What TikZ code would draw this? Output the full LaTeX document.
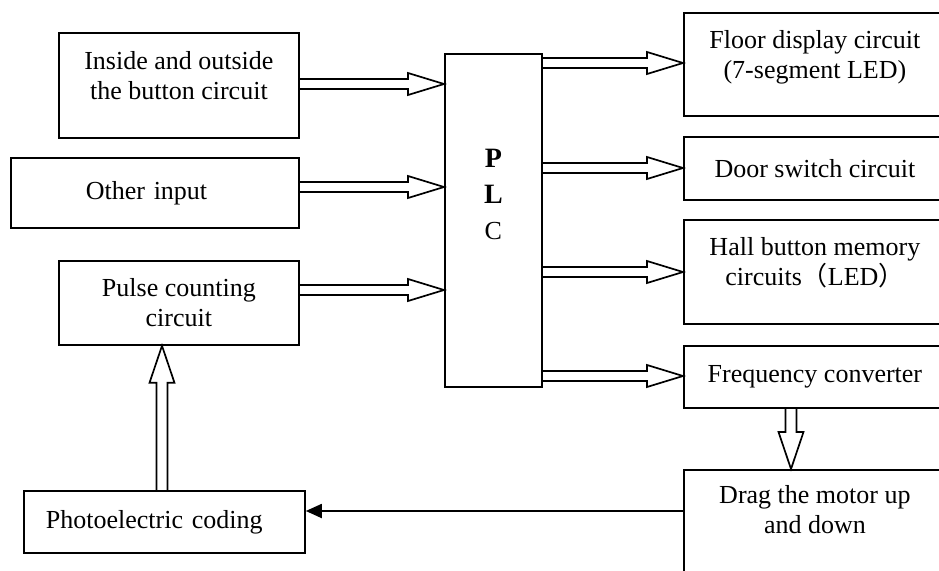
\documentclass[tikz,border=0pt]{standalone}
\usepackage{fontspec}
\setmainfont{Liberation Serif}
\newfontfamily\cjkfont{Noto Sans CJK SC}
\usetikzlibrary{arrows.meta,calc}
\tikzset{
  box/.style={draw, line width=1.8pt, rectangle, anchor=north west, inner sep=0pt,
    align=center, font=\fontsize{26}{30}\selectfont},
  fatarrow/.style={draw, line width=1.7pt, line join=miter},
  plainarrow/.style={line width=1.8pt, -{Triangle[length=16pt,width=14pt]}},
}
% rightward hollow arrow
\newcommand\rarrow[2]{\path[fatarrow] let \p1=(#1),\p2=(#2) in
  (\x1,\y1+5pt) -- (\x2-36pt,\y1+5pt) -- (\x2-36pt,\y1+11pt) -- (\x2,\y1)
  -- (\x2-36pt,\y1-11pt) -- (\x2-36pt,\y1-5pt) -- (\x1,\y1-5pt);}
% vertical hollow arrow
\newcommand\varrow[2]{\path[fatarrow] let \p1=(#1),\p2=(#2),\n1={sign(\y2-\y1)*37} in
  ({\x1-5.5pt},\y1) -- ({\x1-5.5pt},{\y2-(\n1)*1pt}) -- ({\x1-12.5pt},{\y2-(\n1)*1pt}) -- (\x1,\y2)
  -- ({\x1+12.5pt},{\y2-(\n1)*1pt}) -- ({\x1+5.5pt},{\y2-(\n1)*1pt}) -- ({\x1+5.5pt},\y1);}
\begin{document}
\begin{tikzpicture}[x=1pt,y=-1pt]
\useasboundingbox (0,0) rectangle (939,570);
\clip (0,0) rectangle (939,570);
% left column
\node[box, minimum width=240pt, minimum height=105pt, text depth=20pt] (A) at (58,32) {Inside and outside\\the button circuit};
\node[box, text width=138pt, align=left, inner xsep=75pt, minimum height=70pt] (B) at (10,157) {Other input};
\node[box, minimum width=240pt, minimum height=84pt] (C) at (58,260) {Pulse counting\\circuit};
\node[box, text width=237pt, align=left, inner xsep=22pt, minimum height=62pt] (D) at (23,490) {Photoelectric coding};
% PLC
\node[box, minimum width=97pt, minimum height=333pt, text depth=52pt, font=\fontsize{28}{36}\selectfont] (P) at (444,53)
  {\textbf{P}\\\textbf{L}\\{\fontsize{26}{36}\selectfont C}};
% right column
\node[box, minimum width=262pt, minimum height=103pt, text depth=19pt] (E) at (683,12) {Floor display circuit\\(7-segment LED)};
\node[box, minimum width=262pt, minimum height=63pt] (F) at (683,136) {Door switch circuit};
\node[box, minimum width=262pt, minimum height=104pt, text depth=21pt] (H) at (683,219) {Hall button memory\\circuits{\cjkfont （}LED{\cjkfont ）}};
\node[box, minimum width=262pt, minimum height=62pt] (I) at (683,345) {Frequency converter};
\node[box, minimum width=262pt, minimum height=110pt, text depth=30pt] (G) at (683,469) {Drag the motor up\\and down};
% hollow arrows
\rarrow{A.east |- 0,84}{P.west |- 0,84}
\rarrow{B.east |- 0,187}{P.west |- 0,187}
\rarrow{C.east |- 0,290}{P.west |- 0,290}
\rarrow{P.east |- 0,63}{E.west |- 0,63}
\rarrow{P.east |- 0,168}{F.west |- 0,168}
\rarrow{P.east |- 0,272}{H.west |- 0,272}
\rarrow{P.east |- 0,376}{I.west |- 0,376}
\varrow{D.north -| 162,0}{C.south -| 162,0}
\varrow{I.south -| 791,0}{G.north -| 791,0}
% feedback
\draw[plainarrow] (G.west |- 0,511) -- (D.east |- 0,511);
\end{tikzpicture}
\end{document}
